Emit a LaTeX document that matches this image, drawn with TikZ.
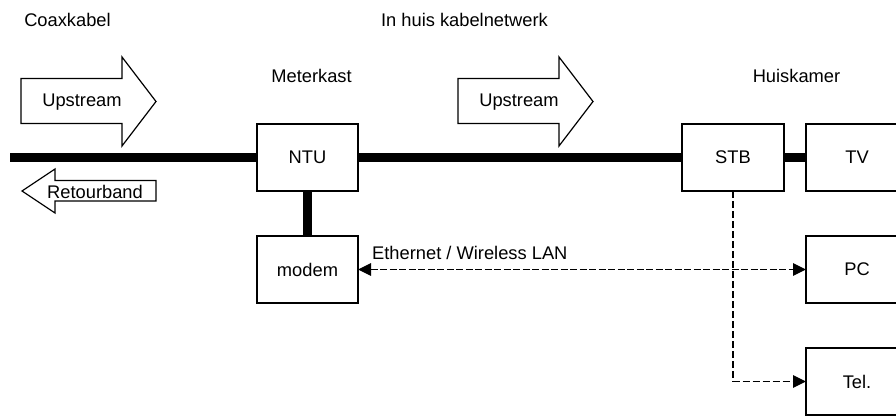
\documentclass[tikz,border=0pt]{standalone}
\usepackage{fontspec}
\setmainfont{Liberation Sans}
\usetikzlibrary{arrows.meta}
\begin{document}
\begin{tikzpicture}[x=1pt,y=-1pt,
  font=\fontsize{18.3}{22}\selectfont,
  unit/.style={draw=black,line width=1.3pt,fill=white,minimum height=67pt,outer sep=0pt,inner sep=0pt},
  narrow/.style={unit,minimum width=101pt},
  wide/.style={unit,minimum width=102pt},
  cable/.style={line width=8.4pt},
  flowarrow/.style={draw=black,line width=1.2pt,fill=white,line join=miter},
  datalink/.style={dash pattern=on 7pt off 3pt,line width=1.1pt,
    -{Triangle[length=13pt,width=12.5pt]}},
  datalinkboth/.style={datalink,dash pattern=on 7pt off 2.5pt,
    {Triangle[length=13pt,width=12.5pt]}-{Triangle[length=13pt,width=12.5pt]}},
  caption/.style={inner sep=0pt}]
\useasboundingbox (0,0) rectangle (896,415);

% section headings
\node[caption] (coax) at (67.5,20) {Coaxkabel};
\node[caption] (inhuis) at (464.5,20) {In huis kabelnetwerk};
\node[caption] (meterkast) at (311.5,76) {Meterkast};
\node[caption] (huiskamer) at (796.5,76) {Huiskamer};

% direction arrows
\draw[flowarrow] (21,78.5) -- (122,78.5) -- (122,57) -- (156,101.5) -- (122,146) -- (122,123.5) -- (21,123.5) -- cycle;
\node[caption] (up1) at (82,102) {Upstream};
\draw[flowarrow] (458,78.5) -- (559,78.5) -- (559,57) -- (593,101.5) -- (559,146) -- (559,123.5) -- (458,123.5) -- cycle;
\node[caption] (up2) at (519,102) {Upstream};
\draw[flowarrow] (22,191) -- (55,169) -- (55,180.5) -- (156,180.5) -- (156,201) -- (55,201) -- (55,213) -- cycle;
\node[caption] (retour) at (95,192) {Retourband};

% devices
\node[narrow] (ntu) at (307.5,157.5) {NTU};
\node[narrow] (modem) at (307.5,269.5) {modem};
\node[wide] (stb) at (733,157.5) {STB};
\node[wide] (tv) at (857,157.5) {TV};
\node[wide] (pc) at (857,269.5) {PC};
\node[wide] (tel) at (857,381.5) {Tel.};

% coax cabling
\coordinate (coaxend) at (10,157.5);
\draw[cable] (coaxend) -- (ntu.west);
\draw[cable] (ntu.east) -- (stb.west);
\draw[cable] (stb.east) -- (tv.west);
\draw[cable] (ntu.south) -- (modem.north);

% data links
\draw[datalinkboth] (modem.east) -- (pc.west);
\node[caption,anchor=west] (ethlabel) at (372,253) {Ethernet / Wireless LAN};
\draw[datalink] (stb.south) |- (tel.west);
\end{tikzpicture}
\end{document}
